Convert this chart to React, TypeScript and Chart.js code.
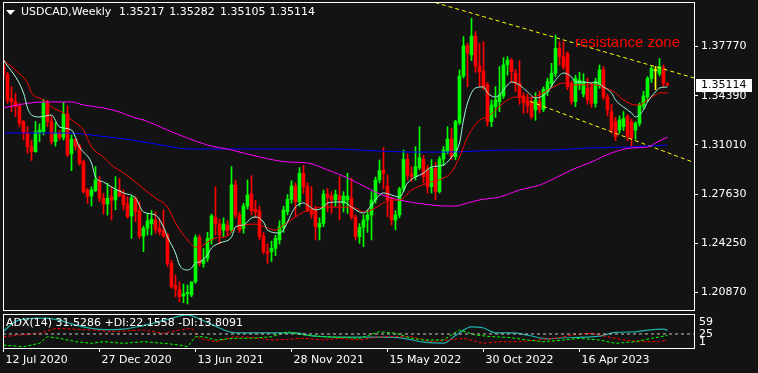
import React, { useEffect, useRef } from 'react';
import { Chart, registerables } from 'chart.js';

Chart.register(...registerables);

// ---------------- data ----------------
const symbolTitle = 'USDCAD,Weekly';
const lastOHLC = ['1.35217', '1.35282', '1.35105', '1.35114'];
const lastPrice = 1.35114;
const adxTitle = 'ADX(14) 31.5286 +DI:22.1558 -DI:13.8091';
const annotationText = 'resistance zone';

const dateLabels = ['12 Jul 2020', '27 Dec 2020', '13 Jun 2021', '28 Nov 2021', '15 May 2022', '30 Oct 2022', '16 Apr 2023'];
const dateBars = [0, 24, 48, 72, 96, 120, 144];
const priceTicks = [1.3777, 1.3439, 1.3101, 1.2763, 1.2425, 1.2087];
const adxTickLabels = ['59', '25', '1'];
const adxLevel = 25;

const opens = [
  1.3650, 1.3585, 1.3421, 1.3398, 1.3364, 1.3261, 1.3181, 1.3093, 1.3055, 1.3181,
  1.3192, 1.3387, 1.3261, 1.3123, 1.3185, 1.3153, 1.3313, 1.3039, 1.3139, 1.3093,
  1.2986, 1.2791, 1.2750, 1.2787, 1.2855, 1.2734, 1.2695, 1.2745, 1.2722, 1.2791,
  1.2757, 1.2695, 1.2613, 1.2734, 1.2649, 1.2475, 1.2528, 1.2560, 1.2585, 1.2528,
  1.2512, 1.2482, 1.2287, 1.2134, 1.2109, 1.2063, 1.2079, 1.2070, 1.2161, 1.2466,
  1.2287, 1.2322, 1.2448, 1.2603, 1.2558, 1.2517, 1.2551, 1.2516, 1.2826, 1.2620,
  1.2528, 1.2681, 1.2764, 1.2658, 1.2649, 1.2475, 1.2368, 1.2368, 1.2390, 1.2448,
  1.2535, 1.2642, 1.2727, 1.2819, 1.2711, 1.2906, 1.2814, 1.2658, 1.2649, 1.2535,
  1.2562, 1.2764, 1.2750, 1.2723, 1.2753, 1.2700, 1.2723, 1.2734, 1.2604, 1.2471,
  1.2535, 1.2585, 1.2620, 1.2723, 1.2860, 1.2929, 1.2819, 1.2723, 1.2585, 1.2620,
  1.2798, 1.3002, 1.2901, 1.2883, 1.2944, 1.3002, 1.2929, 1.2814, 1.2940, 1.2780,
  1.3004, 1.3055, 1.3142, 1.3020, 1.3254, 1.3574, 1.3781, 1.3719, 1.3849, 1.3643,
  1.3609, 1.3513, 1.3261, 1.3364, 1.3398, 1.3437, 1.3650, 1.3684, 1.3593, 1.3524,
  1.3437, 1.3410, 1.3398, 1.3341, 1.3398, 1.3345, 1.3467, 1.3524, 1.3593, 1.3764,
  1.3707, 1.3730, 1.3524, 1.3398, 1.3512, 1.3450, 1.3490, 1.3501, 1.3387, 1.3510,
  1.3616, 1.3430, 1.3329, 1.3261, 1.3203, 1.3226, 1.3295, 1.3261, 1.3203, 1.3249,
  1.3368, 1.3432, 1.3558, 1.3610, 1.3590, 1.3630, 1.35217,
];
const highs = [
  1.3680, 1.3600, 1.3501, 1.3455, 1.3387, 1.3268, 1.3226, 1.3135, 1.3261, 1.3245,
  1.3414, 1.3409, 1.3300, 1.3254, 1.3203, 1.3391, 1.3368, 1.3169, 1.3145, 1.3107,
  1.2997, 1.2803, 1.2814, 1.2952, 1.2883, 1.2768, 1.2837, 1.2814, 1.2883, 1.2871,
  1.2791, 1.2745, 1.2750, 1.2745, 1.2711, 1.2544, 1.2631, 1.2650, 1.2642, 1.2597,
  1.2654, 1.2494, 1.2310, 1.2207, 1.2161, 1.2145, 1.2139, 1.2161, 1.2482, 1.2482,
  1.2390, 1.2500, 1.2625, 1.2814, 1.2590, 1.2600, 1.2580, 1.2952, 1.2860, 1.2640,
  1.2700, 1.2860, 1.2890, 1.2720, 1.2680, 1.2500, 1.2420, 1.2440, 1.2480, 1.2580,
  1.2680, 1.2760, 1.2855, 1.2840, 1.2945, 1.2960, 1.2840, 1.2814, 1.2680, 1.2600,
  1.2791, 1.2803, 1.2780, 1.2790, 1.2883, 1.2780, 1.2906, 1.2872, 1.2620, 1.2560,
  1.2620, 1.2650, 1.2780, 1.2880, 1.2997, 1.3084, 1.2894, 1.2740, 1.2650, 1.2810,
  1.3066, 1.3040, 1.2951, 1.3089, 1.3226, 1.3030, 1.2960, 1.3000, 1.2980, 1.3020,
  1.3090, 1.3226, 1.3215, 1.3270, 1.3616, 1.3845, 1.3800, 1.3971, 1.3880, 1.3799,
  1.3810, 1.3530, 1.3410, 1.3501, 1.3639, 1.3700, 1.3707, 1.3696, 1.3620, 1.3680,
  1.3460, 1.3450, 1.3430, 1.3460, 1.3470, 1.3500, 1.3560, 1.3661, 1.3856, 1.3810,
  1.3810, 1.3740, 1.3540, 1.3580, 1.3600, 1.3590, 1.3560, 1.3530, 1.3560, 1.3650,
  1.3640, 1.3450, 1.3380, 1.3290, 1.3300, 1.3330, 1.3310, 1.3280, 1.3260, 1.3390,
  1.3470, 1.3570, 1.3640, 1.3640, 1.3694, 1.3650, 1.35282,
];
const lows = [
  1.3540, 1.3386, 1.3329, 1.3295, 1.3226, 1.3135, 1.3043, 1.2993, 1.3050, 1.3123,
  1.3169, 1.3226, 1.3107, 1.3093, 1.3135, 1.3135, 1.3020, 1.2924, 1.3066, 1.2963,
  1.2768, 1.2700, 1.2681, 1.2780, 1.2711, 1.2626, 1.2619, 1.2585, 1.2654, 1.2745,
  1.2654, 1.2597, 1.2459, 1.2574, 1.2459, 1.2368, 1.2482, 1.2482, 1.2494, 1.2482,
  1.2466, 1.2265, 1.2116, 1.2058, 1.2024, 1.2017, 1.2008, 1.2058, 1.2150, 1.2269,
  1.2260, 1.2300, 1.2420, 1.2482, 1.2420, 1.2470, 1.2480, 1.2500, 1.2600, 1.2500,
  1.2494, 1.2660, 1.2620, 1.2600, 1.2450, 1.2350, 1.2287, 1.2300, 1.2340, 1.2420,
  1.2500, 1.2620, 1.2700, 1.2608, 1.2680, 1.2768, 1.2642, 1.2597, 1.2448, 1.2448,
  1.2540, 1.2642, 1.2631, 1.2680, 1.2585, 1.2640, 1.2630, 1.2590, 1.2448, 1.2425,
  1.2402, 1.2500, 1.2448, 1.2700, 1.2840, 1.2800, 1.2608, 1.2550, 1.2517, 1.2600,
  1.2780, 1.2860, 1.2850, 1.2860, 1.2930, 1.2840, 1.2770, 1.2770, 1.2723, 1.2770,
  1.2960, 1.3040, 1.3000, 1.3000, 1.3240, 1.3560, 1.3501, 1.3680, 1.3600, 1.3501,
  1.3480, 1.3231, 1.3226, 1.3290, 1.3330, 1.3420, 1.3580, 1.3530, 1.3467, 1.3380,
  1.3318, 1.3320, 1.3280, 1.3270, 1.3320, 1.3330, 1.3440, 1.3500, 1.3570, 1.3650,
  1.3620, 1.3480, 1.3380, 1.3364, 1.3480, 1.3430, 1.3380, 1.3360, 1.3360, 1.3490,
  1.3410, 1.3300, 1.3180, 1.3130, 1.3180, 1.3200, 1.3130, 1.3093, 1.3140, 1.3230,
  1.3350, 1.3400, 1.3530, 1.3480, 1.3575, 1.3500, 1.35105,
];
const closes = [
  1.3585, 1.3409, 1.3398, 1.3364, 1.3249, 1.3181, 1.3089, 1.3055, 1.3192, 1.3203,
  1.3387, 1.3261, 1.3123, 1.3185, 1.3153, 1.3313, 1.3032, 1.3139, 1.3089, 1.2974,
  1.2780, 1.2745, 1.2791, 1.2860, 1.2734, 1.2695, 1.2734, 1.2722, 1.2791, 1.2750,
  1.2688, 1.2608, 1.2739, 1.2642, 1.2475, 1.2528, 1.2580, 1.2590, 1.2521, 1.2505,
  1.2475, 1.2287, 1.2127, 1.2113, 1.2058, 1.2077, 1.2088, 1.2159, 1.2466, 1.2287,
  1.2310, 1.2459, 1.2613, 1.2558, 1.2482, 1.2558, 1.2512, 1.2826, 1.2620, 1.2516,
  1.2681, 1.2757, 1.2649, 1.2642, 1.2471, 1.2368, 1.2356, 1.2390, 1.2459, 1.2539,
  1.2654, 1.2727, 1.2819, 1.2711, 1.2906, 1.2814, 1.2654, 1.2626, 1.2539, 1.2562,
  1.2764, 1.2741, 1.2723, 1.2761, 1.2723, 1.2750, 1.2750, 1.2604, 1.2471, 1.2535,
  1.2585, 1.2620, 1.2723, 1.2860, 1.2924, 1.2906, 1.2723, 1.2585, 1.2620, 1.2798,
  1.3002, 1.2894, 1.2883, 1.2951, 1.3013, 1.2883, 1.2814, 1.2940, 1.2780, 1.3004,
  1.3066, 1.3142, 1.3020, 1.3261, 1.3574, 1.3781, 1.3730, 1.3849, 1.3643, 1.3604,
  1.3501, 1.3261, 1.3375, 1.3410, 1.3444, 1.3650, 1.3684, 1.3604, 1.3524, 1.3428,
  1.3391, 1.3370, 1.3295, 1.3409, 1.3345, 1.3483, 1.3535, 1.3593, 1.3764, 1.3707,
  1.3638, 1.3501, 1.3398, 1.3558, 1.3547, 1.3535, 1.3410, 1.3387, 1.3535, 1.3616,
  1.3430, 1.3340, 1.3203, 1.3158, 1.3272, 1.3283, 1.3158, 1.3146, 1.3249, 1.3375,
  1.3437, 1.3558, 1.3627, 1.3610, 1.3640, 1.3525, 1.35114,
];

// moving averages: [bar, price]
const maFast: [number, number][] = [
  [0, 1.3684], [5, 1.3458], [6, 1.3355], [7, 1.3306], [9, 1.3293], [12, 1.3306], [14, 1.3224], [17, 1.3203],
  [19, 1.3086], [22, 1.2977], [23, 1.2880], [25, 1.2846], [27, 1.2812], [30, 1.2771], [33, 1.2736], [35, 1.2640],
  [38, 1.2619], [40, 1.2537], [41, 1.2468], [43, 1.2358], [44, 1.2276], [46, 1.2242], [47, 1.2255], [48, 1.2290],
  [49, 1.2297], [51, 1.2345], [52, 1.2393], [54, 1.2427], [57, 1.2468], [58, 1.2537], [60, 1.2551], [62, 1.2599],
  [63, 1.2606], [65, 1.2571], [66, 1.2516], [69, 1.2496], [73, 1.2674], [75, 1.2702], [76, 1.2688], [78, 1.2654],
  [80, 1.2674], [81, 1.2702], [84, 1.2709], [85, 1.2709], [87, 1.2674], [89, 1.2640], [90, 1.2633], [92, 1.2688],
  [94, 1.2757], [95, 1.2771], [97, 1.2757], [99, 1.2743], [101, 1.2839], [105, 1.2908], [107, 1.2949], [110, 1.2963],
  [112, 1.3018], [114, 1.3114], [115, 1.3272], [116, 1.3389], [118, 1.3492], [120, 1.3499], [121, 1.3458], [123, 1.3430],
  [124, 1.3444], [126, 1.3513], [127, 1.3533], [129, 1.3513], [131, 1.3465], [133, 1.3423], [136, 1.3465], [138, 1.3547],
  [140, 1.3595], [142, 1.3568], [143, 1.3533], [145, 1.3533], [147, 1.3526], [148, 1.3533], [150, 1.3499], [152, 1.3458],
  [153, 1.3410], [155, 1.3361], [157, 1.3320], [158, 1.3293], [160, 1.3341], [161, 1.3396], [163, 1.3465], [164, 1.3492],
  [166, 1.3499],
];
const maSlow: [number, number][] = [
  [0, 1.3684], [3, 1.3615], [6, 1.3526], [7, 1.3458], [10, 1.3410], [12, 1.3361], [15, 1.3320], [17, 1.3272],
  [20, 1.3203], [22, 1.3086], [25, 1.3018], [27, 1.2963], [30, 1.2908], [33, 1.2846], [36, 1.2777], [38, 1.2736],
  [41, 1.2674], [43, 1.2564], [46, 1.2448], [48, 1.2400], [49, 1.2400], [51, 1.2434], [53, 1.2461], [56, 1.2475],
  [58, 1.2537], [60, 1.2551], [63, 1.2557], [66, 1.2530], [68, 1.2516], [70, 1.2551], [73, 1.2606], [75, 1.2640],
  [78, 1.2667], [80, 1.2674], [83, 1.2674], [85, 1.2674], [88, 1.2667], [90, 1.2640], [92, 1.2654], [95, 1.2702],
  [97, 1.2722], [99, 1.2722], [102, 1.2791], [106, 1.2839], [110, 1.2873], [112, 1.2915], [114, 1.3018], [116, 1.3155],
  [119, 1.3272], [121, 1.3293], [123, 1.3341], [126, 1.3410], [128, 1.3430], [131, 1.3423], [134, 1.3444], [137, 1.3492],
  [140, 1.3526], [143, 1.3513], [145, 1.3513], [148, 1.3513], [150, 1.3499], [153, 1.3458], [155, 1.3410], [158, 1.3375],
  [159, 1.3375], [161, 1.3410], [163, 1.3444], [164, 1.3458], [166, 1.3458],
];
const maMedium: [number, number][] = [
  [0, 1.3355], [5, 1.3382], [10, 1.3396], [17, 1.3396], [20, 1.3375], [25, 1.3355], [29, 1.3327], [33, 1.3286],
  [35, 1.3272], [41, 1.3203], [46, 1.3148], [51, 1.3100], [57, 1.3066], [64, 1.3018], [71, 1.2984], [76, 1.2977],
  [81, 1.2929], [86, 1.2874], [91, 1.2805], [94, 1.2764], [99, 1.2723], [105, 1.2695], [111, 1.2681], [113, 1.2681],
  [116, 1.2702], [119, 1.2723], [124, 1.2743], [129, 1.2791], [134, 1.2825], [138, 1.2874], [142, 1.2929], [147, 1.2984],
  [152, 1.3045], [157, 1.3080], [161, 1.3086], [163, 1.3114], [166, 1.3155],
];
const maLong: [number, number][] = [
  [0, 1.3183], [7, 1.3183], [16, 1.3183], [24, 1.3162], [32, 1.3135], [41, 1.3093], [46, 1.3073], [57, 1.3073],
  [71, 1.3073], [82, 1.3073], [94, 1.3059], [102, 1.3052], [111, 1.3052], [126, 1.3066], [136, 1.3066], [147, 1.3080],
  [156, 1.3086], [161, 1.3093], [166, 1.3100],
];

// channel trendlines: [bar, price]
const upperTrend: [number, number][] = [[107.9, 1.4079], [172.625, 1.3561]];
const lowerTrend: [number, number][] = [[131.6, 1.3400], [172.625, 1.2980]];

// ADX(14) pane: [bar, value]
const adxLine: [number, number][] = [
  [0, 30], [3, 48], [6, 53], [10, 54], [13, 52], [16, 46], [20, 38], [25, 33], [30, 34], [34, 39], [38, 46],
  [42, 54], [46, 60], [48, 56], [51, 46], [54, 36], [57, 28], [60, 27], [64, 27], [69, 27], [73, 27], [76, 23],
  [78, 21], [83, 19], [89, 19], [94, 19], [100, 17], [105, 10], [110, 8], [113, 22], [117, 38], [120, 36],
  [123, 27], [127, 27], [131, 23], [136, 16], [140, 18], [145, 19], [149, 21], [153, 28], [158, 29], [161, 32],
  [165, 34], [166, 31.5],
];
const plusDI: [number, number][] = [
  [0, 4.7], [5, 1.6], [9, 7.8], [11, 20], [14, 17], [18, 10.8], [22, 7.8], [25, 10.8], [30, 7.8], [35, 10.8],
  [40, 7.8], [44, 4.7], [46, 1.6], [48, 20], [50, 20], [53, 13.9], [58, 17], [62, 17], [67, 20], [71, 29.2],
  [75, 23.1], [80, 20], [84, 18.8], [89, 17], [94, 29.2], [98, 26.2], [102, 17], [105, 13.9], [110, 13.9], [114, 32.3],
  [118, 23.1], [122, 20], [126, 18.8], [131, 13.9], [135, 10.8], [140, 13.9], [144, 17], [149, 13.9], [153, 7.8],
  [158, 10.8], [162, 17], [166, 22.2],
];
const minusDI: [number, number][] = [
  [0, 20], [4, 23.1], [9, 26.2], [13, 35.4], [18, 33.8], [22, 32.3], [27, 29.2], [31, 31], [35, 32.3], [40, 26.2],
  [44, 32.3], [47, 35.4], [49, 17], [53, 10.8], [58, 20], [62, 18.8], [67, 13.9], [71, 15], [75, 17], [80, 13.9],
  [84, 17], [89, 13.9], [94, 20], [98, 20], [102, 20], [107, 10.8], [111, 13.9], [115, 17], [120, 7.8], [124, 10.8],
  [129, 10.8], [133, 13.9], [138, 17], [142, 23.1], [147, 26.2], [151, 20], [155, 13.9], [160, 10.8], [164, 10.8],
  [166, 13.8],
];

// ---------------- styling ----------------
const BG = '#131313';
const UP = '#00ff00';
const DOWN = '#ff0000';
const DOJI = '#ffff00';
const FONT = '"DejaVu Sans", sans-serif';

const X_MIN = -0.125;
const X_MAX = 172.625;
const PX = 0.0338 / 49.2;
const Y_MAX = 1.408271;
const Y_MIN = Y_MAX - 309 * PX;
const ADX_MAX = 61.762;
const ADX_MIN = -0.841;

const toXY = (arr: [number, number][]) => arr.map(([x, y]) => ({ x, y }));

const mainOverlay = {
  id: 'mainOverlay',
  afterDraw(chart: any) {
    const { ctx, chartArea: a, scales } = chart;
    ctx.save();
    ctx.strokeStyle = '#ffffff';
    ctx.lineWidth = 1;
    ctx.strokeRect(a.left + 0.5, a.top + 0.5, a.right - a.left, a.bottom - a.top - 1);

    // title
    ctx.fillStyle = '#ffffff';
    ctx.beginPath();
    ctx.moveTo(6, 10);
    ctx.lineTo(15, 10);
    ctx.lineTo(10.5, 15);
    ctx.closePath();
    ctx.fill();
    ctx.font = '11px ' + FONT;
    ctx.textBaseline = 'middle';
    ctx.textAlign = 'left';
    ctx.fillText(symbolTitle, 21, 12.5);
    const xs = [119, 169.3, 220, 269.5];
    lastOHLC.forEach((t, i) => ctx.fillText(t, xs[i], 12.5));

    // annotation
    ctx.fillStyle = '#ff0000';
    ctx.font = '15px "Liberation Sans", Arial, sans-serif';
    ctx.textBaseline = 'alphabetic';
    ctx.fillText(annotationText, 575, 46.5);

    // current price box
    const py = Math.round(scales.y.getPixelForValue(lastPrice));
    ctx.fillStyle = '#ffffff';
    ctx.fillRect(696, py - 6, 56, 13);
    ctx.fillStyle = '#000000';
    ctx.font = '11px ' + FONT;
    ctx.textBaseline = 'middle';
    ctx.fillText(lastPrice.toFixed(5), 701, py + 0.5);
    ctx.restore();
  },
};

const adxOverlay = {
  id: 'adxOverlay',
  afterDraw(chart: any) {
    const { ctx, chartArea: a } = chart;
    ctx.save();
    ctx.strokeStyle = '#ffffff';
    ctx.lineWidth = 1;
    ctx.strokeRect(a.left + 0.5, a.top + 0.5, a.right - a.left, a.bottom - a.top);
    ctx.fillStyle = '#ffffff';
    ctx.font = '11px ' + FONT;
    ctx.textBaseline = 'middle';
    ctx.textAlign = 'left';
    ctx.fillText(adxTitle, 6, 12.5);
    const ys = [10.7, 23.3, 31.5];
    adxTickLabels.forEach((t, i) => ctx.fillText(t, 699, ys[i]));
    ctx.restore();
  },
};

export default function App() {
  const mainRef = useRef<HTMLCanvasElement>(null);
  const adxRef = useRef<HTMLCanvasElement>(null);

  useEffect(() => {
    document.body.style.margin = '0';
    document.body.style.background = BG;
    const colors = opens.map((o, i) => (closes[i] > o ? UP : closes[i] < o ? DOWN : DOJI));

    const main = new Chart(mainRef.current as HTMLCanvasElement, {
      type: 'bar',
      data: {
        datasets: [
          { type: 'line', data: toXY(maFast), borderColor: '#9fffe0', borderWidth: 1, pointRadius: 0, cubicInterpolationMode: 'monotone', order: 0 } as any,
          { type: 'line', data: toXY(maSlow), borderColor: '#ff0000', borderWidth: 1, pointRadius: 0, cubicInterpolationMode: 'monotone', order: 0 } as any,
          { type: 'line', data: toXY(maMedium), borderColor: '#ff00ff', borderWidth: 1, pointRadius: 0, cubicInterpolationMode: 'monotone', order: 0 } as any,
          { type: 'line', data: toXY(maLong), borderColor: '#0000ff', borderWidth: 1, pointRadius: 0, cubicInterpolationMode: 'monotone', order: 0 } as any,
          { type: 'line', data: toXY(upperTrend), borderColor: '#ffff00', borderWidth: 1, borderDash: [4, 3], pointRadius: 0, order: 0 } as any,
          { type: 'line', data: toXY(lowerTrend), borderColor: '#ffff00', borderWidth: 1, borderDash: [4, 3], pointRadius: 0, order: 0 } as any,
          {
            type: 'bar',
            data: opens.map((o, i) => ({ x: i, y: [o, closes[i]] })),
            backgroundColor: colors,
            barThickness: 3,
            minBarLength: 1,
            grouped: false,
            order: 1,
          } as any,
          {
            type: 'bar',
            data: opens.map((_, i) => ({ x: i, y: [lows[i], highs[i]] })),
            backgroundColor: colors,
            barThickness: 1,
            grouped: false,
            order: 2,
          } as any,
        ],
      },
      options: {
        animation: false,
        responsive: false,
        devicePixelRatio: 1,
        events: [],
        layout: { padding: { left: 3, top: 2, right: 0, bottom: 1 } },
        plugins: { legend: { display: false }, tooltip: { enabled: false } },
        scales: {
          x: { type: 'linear', min: X_MIN, max: X_MAX, display: false, offset: false, grid: { offset: false } },
          y: {
            type: 'linear',
            position: 'right',
            min: Y_MIN,
            max: Y_MAX,
            bounds: 'data',
            afterBuildTicks: (s: any) => { s.ticks = priceTicks.map((v) => ({ value: v })); },
            afterFit: (s: any) => { s.width = 64; s.paddingTop = 0; s.paddingBottom = 0; },
            ticks: { color: '#ffffff', font: { family: FONT, size: 11 }, padding: 3, callback: (v: any) => Number(v).toFixed(5) },
            grid: { display: true, drawOnChartArea: false, drawTicks: true, tickLength: 4, color: '#ffffff' },
            border: { display: false },
          },
        },
      } as any,
      plugins: [mainOverlay],
    });

    const adx = new Chart(adxRef.current as HTMLCanvasElement, {
      type: 'line',
      data: {
        datasets: [
          { data: [{ x: X_MIN, y: adxLevel }, { x: X_MAX, y: adxLevel }], borderColor: '#c8c8c8', borderWidth: 1, borderDash: [3, 3], pointRadius: 0 },
          { data: toXY(plusDI), borderColor: '#00ff00', borderWidth: 1, borderDash: [3, 2], pointRadius: 0 },
          { data: toXY(minusDI), borderColor: '#ff0000', borderWidth: 1, borderDash: [3, 2], pointRadius: 0 },
          { data: toXY(adxLine), borderColor: '#20b2aa', borderWidth: 1.2, pointRadius: 0, cubicInterpolationMode: 'monotone' },
        ],
      },
      options: {
        animation: false,
        responsive: false,
        devicePixelRatio: 1,
        events: [],
        layout: { padding: { left: 3, top: 3, right: 64, bottom: 0 } },
        plugins: { legend: { display: false }, tooltip: { enabled: false } },
        scales: {
          x: {
            type: 'linear',
            min: X_MIN,
            max: X_MAX,
            bounds: 'data',
            afterBuildTicks: (s: any) => { s.ticks = dateBars.map((v) => ({ value: v })); },
            afterFit: (s: any) => { s.height = 25; s.paddingLeft = 0; s.paddingRight = 0; },
            ticks: {
              color: '#ffffff',
              font: { family: FONT, size: 11 },
              padding: 2,
              align: 'start',
              labelOffset: 2,
              maxRotation: 0,
              autoSkip: false,
              callback: (v: any) => {
                const k = dateBars.indexOf(Math.round(Number(v)));
                return k >= 0 ? dateLabels[k] : '';
              },
            },
            grid: { display: true, drawOnChartArea: false, drawTicks: true, tickLength: 4, color: '#ffffff' },
            border: { display: false },
          },
          y: { type: 'linear', min: ADX_MIN, max: ADX_MAX, display: false },
        },
      } as any,
      plugins: [adxOverlay],
    });

    return () => {
      main.destroy();
      adx.destroy();
    };
  }, []);

  return (
    <div style={{ position: 'fixed', left: 0, top: 0, width: 758, height: 373, background: BG, overflow: 'hidden' }}>
      <canvas ref={mainRef} width={758} height={312} style={{ position: 'absolute', left: 0, top: 0, width: 758, height: 312 }} />
      <canvas ref={adxRef} width={758} height={62} style={{ position: 'absolute', left: 0, top: 311, width: 758, height: 62 }} />
    </div>
  );
}
